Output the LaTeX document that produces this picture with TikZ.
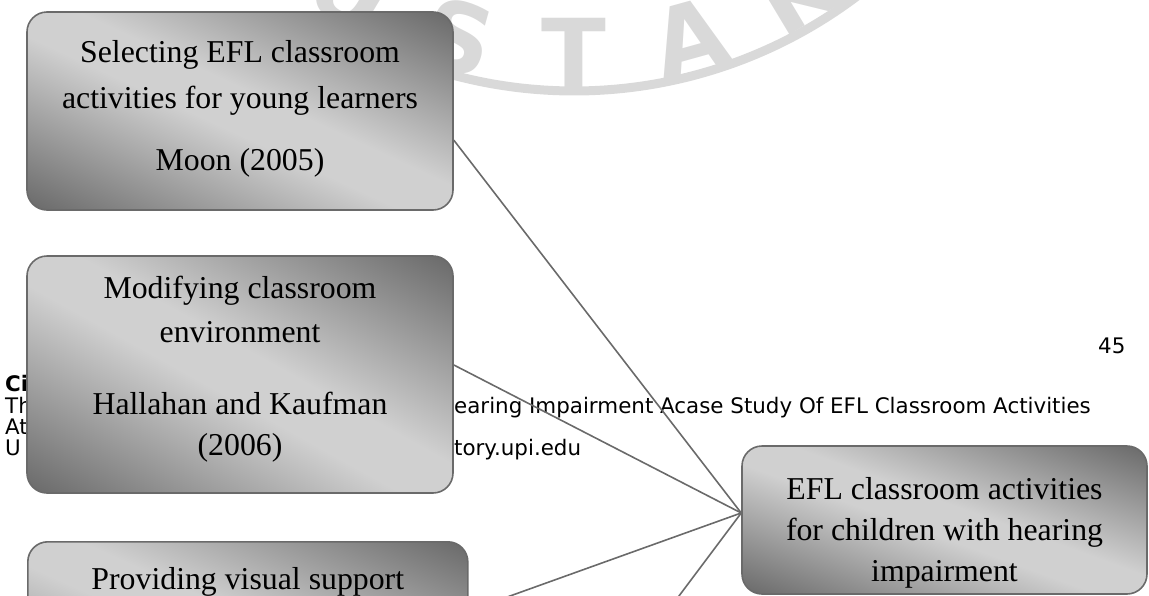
\documentclass[tikz,border=0pt]{standalone}
\usepackage{fontspec}
\setmainfont{Liberation Serif}
\newfontfamily\footfont{DejaVu Sans}
\usetikzlibrary{calc}

\definecolor{edgegray}{HTML}{6A6A6A}
\definecolor{shadedark}{HTML}{686868}
\definecolor{shadelight}{HTML}{D0D0D0}
\definecolor{markgray}{HTML}{D9D9D9}

% dark -> light -> dark, laid across the box diagonal by \cardshading
\pgfdeclareverticalshading{cardshade}{100bp}{%
  color(0bp)=(shadedark); color(44bp)=(shadelight);
  color(56bp)=(shadelight); color(100bp)=(shadedark)}

% fills the current path with cardshade so that the light band runs
% from the top-left to the bottom-right corner of its bounding box
\newcommand\cardshading{%
  \pgfpointdiff{\pgfpointanchor{path picture bounding box}{south west}}%
               {\pgfpointanchor{path picture bounding box}{north east}}%
  \pgfgetlastxy{\cardw}{\cardh}%
  \pgfmathsetmacro{\cardxa}{\cardw/100}%
  \pgfmathsetmacro{\cardyb}{\cardh/100}%
  \pgftransformshift{\pgfpointanchor{path picture bounding box}{center}}%
  \pgftransformcm{\cardxa}{-\cardyb}{\cardxa}{\cardyb}{\pgfpointorigin}%
  \pgftext{\pgfuseshading{cardshade}}%
}

\tikzset{
  card/.style={draw=edgegray, line width=1.6pt, rounded corners=20pt,
    path picture={\cardshading},
    align=center, inner sep=0pt},
  cardtext/.style={font=\fontsize{31.8}{44}\selectfont},
  link/.style={draw=edgegray, line width=1.6pt},
  footfont/.style={font=\footfont\fontsize{21.4}{21.5}\selectfont},
  foot/.style={footfont, anchor=base west, inner sep=0pt},
  wmletter/.style={text=markgray, inner sep=0pt,
    font=\footfont\bfseries\fontsize{95}{95}\selectfont},
}

\begin{document}
\begin{tikzpicture}[x=1pt, y=-1pt]
\useasboundingbox (0,0) rectangle (1149,595);
\clip (0,0) rectangle (1149,595);

% library stamp in the background: letters on a circle round (574,-379)
\node[wmletter, rotate=-31]   (wmU) at ({574-432*sin(31)},  {-379+432*cos(31)})   {U};
\node[wmletter, rotate=-15.5] (wmS) at ({574-432*sin(15.5)},{-379+432*cos(15.5)}) {S};
\node[wmletter]               (wmT) at (574,53) {T};
\node[wmletter, rotate=15.5]  (wmA) at ({574+432*sin(15.5)},{-379+432*cos(15.5)}) {A};
\node[wmletter, rotate=31]    (wmK) at ({574+432*sin(31)},  {-379+432*cos(31)})   {K};
\draw[markgray, line width=9pt]
  plot[domain=-26:37, samples=80] ({574+470*sin(\x)}, {-379+470*cos(\x)});

% page footer and page number
\node[foot, font=\footfont\bfseries\fontsize{21.4}{21.5}\selectfont] (fc) at (5,391) {Ci};
\node[foot] (ft) at (5,413) {Th};
\node[foot] (fa) at (5,434) {At};
\node[foot] (fu) at (5,455) {U};
\node[foot] (ft2) at (454,413) {earing Impairment Acase Study Of EFL Classroom Activities};
\node[foot] (fu2) at (454,455) {tory.upi.edu};
\node[foot] (pg) at (1098,353) {45};

% concept boxes
\node[card, font=\fontsize{31.8}{46}\selectfont, minimum width=426, minimum height=198] (b1) at (240,111)
  {Selecting EFL classroom\\activities for young learners\\[16pt]Moon (2005)\rule[-12pt]{0pt}{0pt}};
\node[card, cardtext, minimum width=426, minimum height=237] (b2) at (240,374.5)
  {Modifying classroom\\environment\\[28pt]Hallahan and Kaufman\\[-3pt](2006)\rule[-17pt]{0pt}{0pt}};
\node[card, cardtext, minimum width=440, text height=48pt, text depth=150pt,
      anchor=north west] (b3) at (27,541)
  {Providing visual support};
\node[card, font=\fontsize{31.8}{41}\selectfont,
      minimum width=405, minimum height=148] (r) at (944.5,520)
  {\rule{0pt}{48pt}EFL classroom activities\\for children with hearing\\impairment};

% connectors
\coordinate (hub) at ($(r.north west)!0.453!(r.south west)$);
\coordinate (q4) at (661,620);
\draw[link] ($(b1.north east)!0.646!(b1.south east)$) -- (hub);
\draw[link] ($(b2.north east)!0.46!(b2.south east)$) -- (hub);
\draw[link] ($(b3.north east)!0.35!(b3.south east)$) -- (hub);
\draw[link] (q4) -- (hub);
\end{tikzpicture}
\end{document}
